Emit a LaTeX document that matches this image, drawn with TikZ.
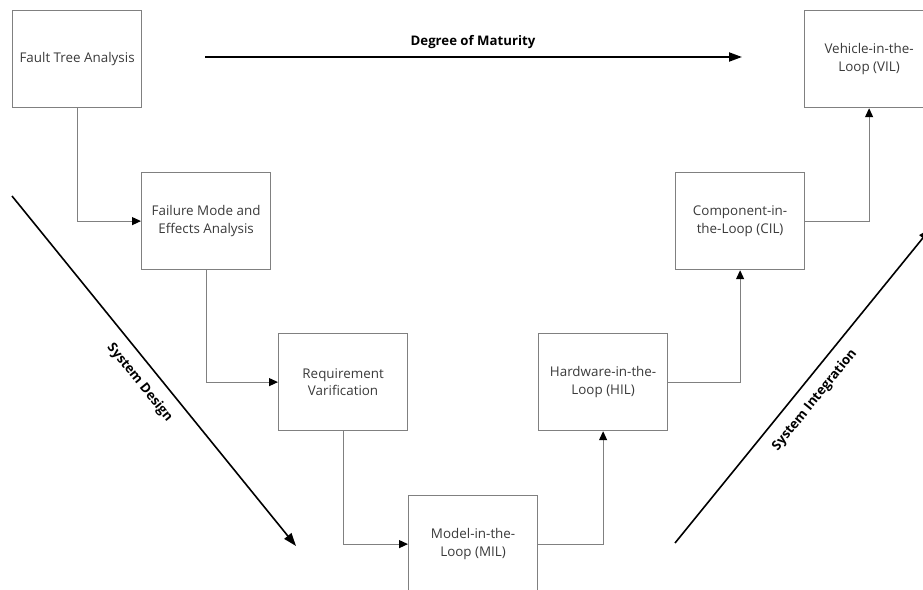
\documentclass[tikz,border=0pt]{standalone}
\usepackage{fontspec}
\setmainfont{Open Sans}
\usetikzlibrary{arrows.meta}
\definecolor{framegrey}{HTML}{808080}
\definecolor{labelgrey}{HTML}{3A3A3A}
\begin{document}
\begin{tikzpicture}[x=1pt,y=-1pt,
  stage/.style={draw=framegrey, line width=1.2pt, minimum width=129pt, minimum height=97pt,
    align=center, text=labelgrey, inner sep=0pt, anchor=north west,
    font=\fontsize{13.4}{17.5}\selectfont},
  flow/.style={draw=framegrey, line width=1.2pt,
    -{Triangle[length=9pt,width=8pt,color=black]}},
  trend/.style={draw=black, line width=1.6pt,
    -{Triangle[length=13pt,width=9pt]}},
  trendlabel/.style={font=\bfseries\fontsize{13.2}{15}\selectfont, text=black, inner sep=0pt},
]
\useasboundingbox (0,0) rectangle (923,589);
\clip (0,0) rectangle (923,589);

% process stages
\node[stage] (fta)  at (12,10)   {Fault Tree Analysis};
\node[stage] (fmea) at (141,172) {Failure Mode and\\Effects Analysis};
\node[stage] (req)  at (278,333) {Requirement\\Varification};
\node[stage] (mil)  at (408,495) {Model-in-the-\\Loop (MIL)};
\node[stage] (hil)  at (538,333) {Hardware-in-the-\\Loop (HIL)};
\node[stage] (cil)  at (675,172) {Component-in-\\the-Loop (CIL)};
\node[stage] (vil)  at (804,10)  {Vehicle-in-the-\\Loop (VIL)};

% stage-to-stage flow
\draw[flow] (fta.south) |- (fmea.west);
\draw[flow] (fmea.south) |- (req.west);
\draw[flow] (req.south) |- (mil.west);
\draw[flow] (mil.east) -| (hil.south);
\draw[flow] (hil.east) -| (cil.south);
\draw[flow] (cil.east) -| (vil.south);

% trend arrows
\coordinate (dm-start) at (205,57);
\coordinate (dm-end)   at (742,57);
\draw[trend, line width=2pt] (dm-start) -- (dm-end);
\node[trendlabel] (dm-label) at (473,42) {Degree of Maturity};

\coordinate (sd-start) at (12,196);
\coordinate (sd-end)   at (296,546);
\draw[trend] (sd-start) -- (sd-end)
  node[trendlabel, midway, sloped, below=11pt] (sd-label) {System Design};

\coordinate (si-start) at (675,543);
\coordinate (si-end)   at (931,228);
\draw[trend] (si-start) -- (si-end)
  node[trendlabel, pos=0.49, sloped, below=11pt] (si-label) {System Integration};
\end{tikzpicture}
\end{document}
